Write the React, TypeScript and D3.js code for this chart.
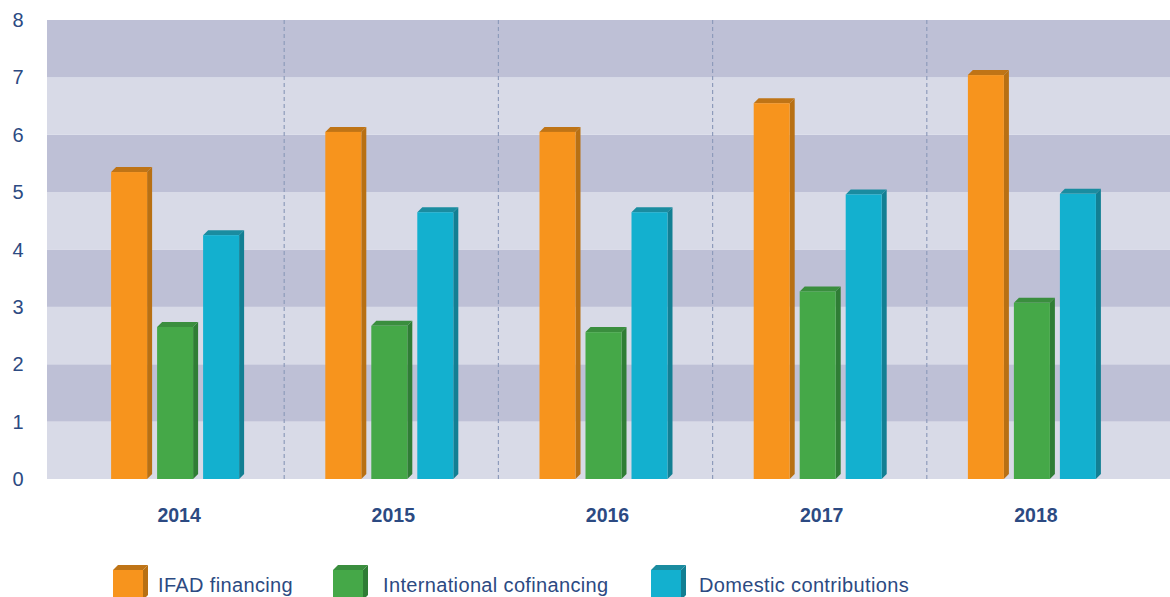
import React, { useEffect, useRef } from "react";
import * as d3 from "d3";

const years = ["2014", "2015", "2016", "2017", "2018"];
const seriesNames = ["IFAD financing", "International cofinancing", "Domestic contributions"];
const ifad = [5.35, 6.05, 6.05, 6.55, 7.04];
const cofinancing = [2.65, 2.67, 2.56, 3.27, 3.07];
const domestic = [4.25, 4.65, 4.65, 4.96, 4.97];
const yTicks = [0, 1, 2, 3, 4, 5, 6, 7, 8];

const colors = [
  { front: "#f7941d", side: "#b87013", top: "#bf7416" },
  { front: "#45a848", side: "#2f7d35", top: "#3a8e3e" },
  { front: "#13b0cf", side: "#127f93", top: "#1a8ca0" },
];

const App = () => {
  const svgRef = useRef<SVGSVGElement>(null);

  useEffect(() => {
    const w = 1170;
    const h = 597;
    const svg = d3.select(svgRef.current);
    svg.selectAll("*").remove();

    const plotLeft = 47;
    const plotRight = 1170;
    const depth = 5;
    const fontFamily = "'Liberation Sans', Arial, sans-serif";
    const textColor = "#2c4a82";

    const y = d3.scaleLinear().domain([0, 8]).range([479, 20]);
    const x0 = d3.scaleBand().domain(years).range([70, 1141]).paddingInner(0);
    const mid = x0.bandwidth() / 2;
    const x1 = d3
      .scaleBand()
      .domain(seriesNames)
      .range([mid - 66, mid + 62])
      .paddingInner(10 / 46);

    // striped background
    svg
      .append("g")
      .selectAll("rect")
      .data(d3.range(0, 8))
      .join("rect")
      .attr("x", plotLeft)
      .attr("width", plotRight - plotLeft)
      .attr("y", (d) => y(d + 1))
      .attr("height", (d) => y(d) - y(d + 1))
      .attr("fill", (d) => (d % 2 === 0 ? "#d8dae7" : "#bec0d6"));

    // dashed separators between years
    svg
      .append("g")
      .selectAll("line")
      .data(years.slice(1))
      .join("line")
      .attr("x1", (d) => x0(d)!)
      .attr("x2", (d) => x0(d)!)
      .attr("y1", y(8))
      .attr("y2", y(0))
      .attr("stroke", "#8e9bbb")
      .attr("stroke-width", 1.2)
      .attr("stroke-dasharray", "4,3");

    // y labels
    svg
      .append("g")
      .selectAll("text")
      .data(yTicks)
      .join("text")
      .attr("x", 18)
      .attr("y", (d) => y(d))
      .attr("dy", "0.35em")
      .attr("text-anchor", "middle")
      .attr("font-family", fontFamily)
      .attr("font-size", 20)
      .attr("fill", textColor)
      .text((d) => d);

    const values = [ifad, cofinancing, domestic];

    const drawBox = (g: any, x: number, top: number, bw: number, bh: number, c: any) => {
      g.append("path")
        .attr("d", `M${x},${top} L${x + depth},${top - depth} L${x + bw + depth},${top - depth} L${x + bw},${top} Z`)
        .attr("fill", c.top);
      g.append("path")
        .attr("d", `M${x + bw},${top} L${x + bw + depth},${top - depth} L${x + bw + depth},${top + bh - depth} L${x + bw},${top + bh} Z`)
        .attr("fill", c.side);
      g.append("rect")
        .attr("x", x)
        .attr("y", top)
        .attr("width", bw)
        .attr("height", bh)
        .attr("fill", c.front);
    };

    const bars = svg.append("g");
    years.forEach((yr, i) => {
      seriesNames.forEach((s, j) => {
        const v = values[j][i];
        const bx = x0(yr)! + x1(s)!;
        drawBox(bars, bx, y(v), x1.bandwidth(), y(0) - y(v), colors[j]);
      });
    });

    // year labels
    svg
      .append("g")
      .selectAll("text")
      .data(years)
      .join("text")
      .attr("x", (d) => x0(d)! + mid + 2)
      .attr("y", 522)
      .attr("text-anchor", "middle")
      .attr("font-family", fontFamily)
      .attr("font-weight", "bold")
      .attr("font-size", 19.5)
      .attr("fill", textColor)
      .text((d) => d);

    // legend
    const legendX = [113, 333, 651];
    const legendTextX = [158, 383, 699];
    const legend = svg.append("g");
    seriesNames.forEach((s, j) => {
      drawBox(legend, legendX[j], 570, 30, 30, colors[j]);
      legend
        .append("text")
        .attr("x", legendTextX[j])
        .attr("y", 592)
        .attr("font-family", fontFamily)
        .attr("font-size", 20)
        .attr("letter-spacing", 0.35)
        .attr("fill", textColor)
        .text(s);
    });

    svg.attr("width", w).attr("height", h);
  }, []);

  return (
    <svg
      ref={svgRef}
      width={1170}
      height={597}
      style={{ position: "absolute", left: 0, top: 0, background: "#ffffff", display: "block" }}
    ></svg>
  );
};

export default App;
